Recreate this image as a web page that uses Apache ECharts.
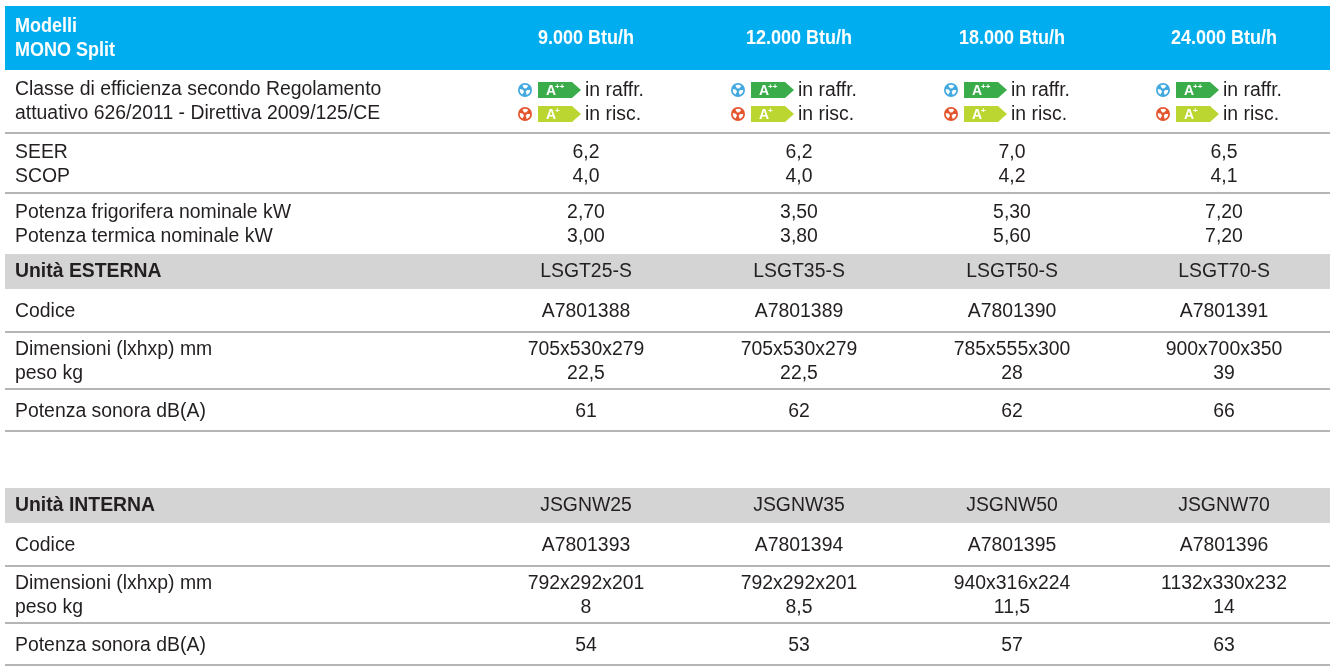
<!DOCTYPE html>
<html>
<head>
<meta charset="utf-8">
<script src="https://cdn.jsdelivr.net/npm/echarts@6/dist/echarts.min.js"></script>
<style>
  html, body { margin: 0; padding: 0; background: #fff; }
  #main { width: 1338px; height: 672px; }
</style>
</head>
<body>
<div id="main"></div>
<script>
// ---- data ----
const models = ['9.000 Btu/h', '12.000 Btu/h', '18.000 Btu/h', '24.000 Btu/h'];
const coolClass = ['A++', 'A++', 'A++', 'A++'];
const heatClass = ['A+', 'A+', 'A+', 'A+'];
const seer = ['6,2', '6,2', '7,0', '6,5'];
const scop = ['4,0', '4,0', '4,2', '4,1'];
const coolKw = ['2,70', '3,50', '5,30', '7,20'];
const heatKw = ['3,00', '3,80', '5,60', '7,20'];
const extModel = ['LSGT25-S', 'LSGT35-S', 'LSGT50-S', 'LSGT70-S'];
const extCode = ['A7801388', 'A7801389', 'A7801390', 'A7801391'];
const extDim = ['705x530x279', '705x530x279', '785x555x300', '900x700x350'];
const extWeight = ['22,5', '22,5', '28', '39'];
const extSound = ['61', '62', '62', '66'];
const intModel = ['JSGNW25', 'JSGNW35', 'JSGNW50', 'JSGNW70'];
const intCode = ['A7801393', 'A7801394', 'A7801395', 'A7801396'];
const intDim = ['792x292x201', '792x292x201', '940x316x224', '1132x330x232'];
const intWeight = ['8', '8,5', '11,5', '14'];
const intSound = ['54', '53', '57', '63'];

// ---- layout ----
// no narrow face installed, so Liberation Sans gets squeezed a little with scaleX
const FONT = '"Liberation Sans", Arial, sans-serif';
const INK = '#231f20';
const BLUE = '#00adef';
const GREY = '#d4d4d4';
const RULE = '#b5b5b5';
const tableLeft = 5, tableRight = 1330, labelX = 15;
const colX = [586, 799, 1012, 1224];

const pair = (a, b) => a.map((v, i) => v + '\n' + b[i]);

const rows = [
  { top: 6, bottom: 70, kind: 'head', label: 'Modelli\nMONO Split', values: models },
  { top: 70, bottom: 133, kind: 'energy', line: true,
    label: 'Classe di efficienza secondo Regolamento\nattuativo 626/2011 - Direttiva 2009/125/CE' },
  { top: 133, bottom: 193, line: true, label: 'SEER\nSCOP', values: pair(seer, scop) },
  { top: 193, bottom: 254, label: 'Potenza frigorifera nominale kW\nPotenza termica nominale kW', values: pair(coolKw, heatKw) },
  { top: 254, bottom: 289, kind: 'grey', label: 'Unità ESTERNA', values: extModel },
  { top: 289, bottom: 332, line: true, label: 'Codice', values: extCode },
  { top: 332, bottom: 389, line: true, label: 'Dimensioni (lxhxp) mm\npeso kg', values: pair(extDim, extWeight) },
  { top: 389, bottom: 431, line: true, label: 'Potenza sonora dB(A)', values: extSound },
  { top: 488, bottom: 523, kind: 'grey', label: 'Unità INTERNA', values: intModel },
  { top: 523, bottom: 566, line: true, label: 'Codice', values: intCode },
  { top: 566, bottom: 623, line: true, label: 'Dimensioni (lxhxp) mm\npeso kg', values: pair(intDim, intWeight) },
  { top: 623, bottom: 665, line: true, label: 'Potenza sonora dB(A)', values: intSound }
];

// build cells
const fills = [], rules = [], cells = [], labels = [];
rows.forEach(r => {
  const mid = (r.top + r.bottom) / 2 + (r.kind ? 0 : 1);
  if (r.kind === 'head') fills.push({ y0: r.top, y1: r.bottom, color: BLUE });
  if (r.kind === 'grey') fills.push({ y0: r.top, y1: r.bottom, color: GREY });
  if (r.line) rules.push(r.bottom);
  const head = r.kind === 'head';
  const base = head
    ? { color: '#fff', size: 20, weight: 'bold', sx: 0.9 }
    : { color: INK, size: 20, weight: 'normal', sx: 0.97 };
  cells.push(Object.assign({}, base, { x: labelX, y: mid, text: r.label, align: 'left',
    weight: (head || r.kind === 'grey') ? 'bold' : 'normal' }));
  (r.values || []).forEach((v, i) => {
    cells.push(Object.assign({}, base, { x: colX[i], y: mid, text: v, align: 'center' }));
  });
});
colX.forEach((x, i) => {
  labels.push({ x: x, y: 90, cls: coolClass[i], word: 'in raffr.', icon: '#41a9df', tag: '#3aac4a' });
  labels.push({ x: x, y: 114, cls: heatClass[i], word: 'in risc.', icon: '#e5552d', tag: '#bcd631' });
});

const chart = echarts.init(document.getElementById('main'));
chart.setOption({
  animation: false,
  grid: { left: 0, right: 0, top: 0, bottom: 0 },
  xAxis: { type: 'value', min: 0, max: 1338, show: false },
  yAxis: { type: 'value', min: 0, max: 672, inverse: true, show: false },
  series: [
    {
      type: 'custom', name: 'fills', silent: true, clip: false, z: 1,
      data: fills.map(f => [f.y0, f.y1]),
      renderItem: (params, api) => {
        const f = fills[params.dataIndex];
        const a = api.coord([tableLeft, f.y0]);
        const b = api.coord([tableRight, f.y1]);
        return { type: 'rect', shape: { x: a[0], y: a[1], width: b[0] - a[0], height: b[1] - a[1] },
          style: { fill: f.color } };
      }
    },
    {
      type: 'custom', name: 'rules', silent: true, clip: false, z: 2,
      data: rules.map(y => [tableLeft, y]),
      renderItem: (params, api) => {
        const a = api.coord([tableLeft, api.value(1)]);
        const b = api.coord([tableRight, api.value(1)]);
        return { type: 'line', shape: { x1: a[0], y1: a[1], x2: b[0], y2: b[1] },
          style: { stroke: RULE, lineWidth: 2 } };
      }
    },
    {
      type: 'custom', name: 'cells', silent: true, clip: false, z: 3,
      data: cells.map(c => [c.x, c.y]),
      renderItem: (params, api) => {
        const c = cells[params.dataIndex];
        const p = api.coord([api.value(0), api.value(1)]);
        return { type: 'text', x: p[0], y: p[1], scaleX: c.sx,
          style: { text: c.text, fill: c.color, fontFamily: FONT, fontSize: c.size,
            fontWeight: c.weight, align: c.align, verticalAlign: 'middle', lineHeight: 24 } };
      }
    },
    {
      type: 'custom', name: 'energy', silent: true, clip: false, z: 3,
      data: labels.map(l => [l.x, l.y]),
      renderItem: (params, api) => {
        const l = labels[params.dataIndex];
        const p = api.coord([api.value(0), api.value(1)]);
        const cx = p[0], cy = p[1];
        const x0 = cx - 48, x1 = cx - 5, y0 = cy - 8, y1 = cy + 8;
        const blades = [0, 120, 240].map(a => ({
          type: 'sector',
          shape: { cx: cx - 61, cy: cy, r0: 1.8, r: 5.2,
            startAngle: a * Math.PI / 180, endAngle: (a + 70) * Math.PI / 180 },
          style: { fill: '#fff' }
        }));
        return {
          type: 'group',
          children: [
            { type: 'circle', shape: { cx: cx - 61, cy: cy, r: 7 }, style: { fill: l.icon } },
            ...blades,
            { type: 'polygon',
              shape: { points: [[x0, y0], [x1 - 9, y0], [x1, cy], [x1 - 9, y1], [x0, y1]] },
              style: { fill: l.tag } },
            { type: 'text', x: x0 + 8, y: cy + 1,
              style: { text: 'A', fill: '#fff', fontFamily: FONT, fontSize: 14, fontWeight: 'bold',
                align: 'left', verticalAlign: 'middle' } },
            { type: 'text', x: x0 + 17, y: cy - 3,
              style: { text: l.cls.slice(1), fill: '#fff', fontFamily: FONT, fontSize: 8, fontWeight: 'bold',
                align: 'left', verticalAlign: 'middle' } },
            { type: 'text', x: cx - 1, y: cy, scaleX: 0.97,
              style: { text: l.word, fill: INK, fontFamily: FONT, fontSize: 20,
                align: 'left', verticalAlign: 'middle' } }
          ]
        };
      }
    }
  ]
});
</script>
</body>
</html>
